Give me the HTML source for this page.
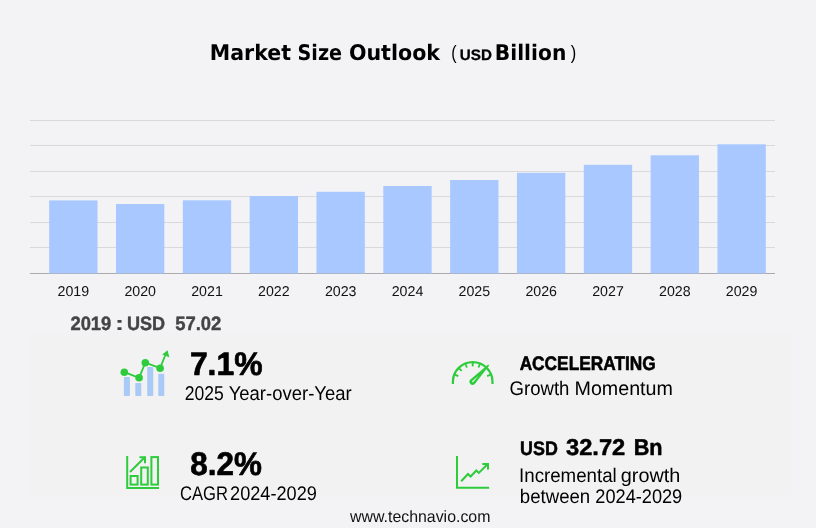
<!DOCTYPE html>
<html lang="en"><head><meta charset="utf-8"><title>Market Size Outlook (USD Billion)</title>
<style>
html,body{margin:0;padding:0;background:#f3f3f6;}
body{width:816px;height:528px;overflow:hidden;font-family:"Liberation Sans",sans-serif;}
svg{display:block;}
</style></head><body>
<svg width="816" height="528" viewBox="0 0 816 528" text-rendering="geometricPrecision" role="img" aria-label="Market Size Outlook (USD Billion)">
<rect x="0" y="0" width="816" height="528" fill="#f3f3f6"/>
<rect x="30" y="329" width="761.5" height="166.5" fill="#f2f2f2"/>
<rect x="30" y="329" width="761.5" height="3" fill="#f3f3f5"/>
<rect x="30" y="332" width="761.5" height="3" fill="#f2f2f4"/>

<rect x="30" y="120" width="745" height="1" fill="#d9d9dc"/>
<rect x="30" y="145" width="745" height="1" fill="#d9d9dc"/>
<rect x="30" y="171" width="745" height="1" fill="#d9d9dc"/>
<rect x="30" y="196" width="745" height="1" fill="#d9d9dc"/>
<rect x="30" y="222" width="745" height="1" fill="#d9d9dc"/>
<rect x="30" y="247" width="745" height="1" fill="#d9d9dc"/>
<rect x="30" y="273" width="745" height="1" fill="#ababad"/>
<rect x="49.15" y="200.4" width="48.35" height="73.0" fill="#a8c8ff"/>
<rect x="115.98" y="204" width="48.35" height="69.4" fill="#a8c8ff"/>
<rect x="182.81" y="200.3" width="48.35" height="73.1" fill="#a8c8ff"/>
<rect x="249.64" y="196" width="48.35" height="77.4" fill="#a8c8ff"/>
<rect x="316.47" y="191.8" width="48.35" height="81.6" fill="#a8c8ff"/>
<rect x="383.30" y="186" width="48.35" height="87.4" fill="#a8c8ff"/>
<rect x="450.13" y="180" width="48.35" height="93.4" fill="#a8c8ff"/>
<rect x="516.96" y="172.8" width="48.35" height="100.6" fill="#a8c8ff"/>
<rect x="583.79" y="164.8" width="48.35" height="108.6" fill="#a8c8ff"/>
<rect x="650.62" y="155.3" width="48.35" height="118.1" fill="#a8c8ff"/>
<rect x="717.45" y="144.3" width="48.35" height="129.1" fill="#a8c8ff"/>
<text x="73.3" y="296" text-anchor="middle" font-size="14.2" fill="#111" font-family="Liberation Sans, sans-serif">2019</text>
<text x="140.2" y="296" text-anchor="middle" font-size="14.2" fill="#111" font-family="Liberation Sans, sans-serif">2020</text>
<text x="207.0" y="296" text-anchor="middle" font-size="14.2" fill="#111" font-family="Liberation Sans, sans-serif">2021</text>
<text x="273.8" y="296" text-anchor="middle" font-size="14.2" fill="#111" font-family="Liberation Sans, sans-serif">2022</text>
<text x="340.7" y="296" text-anchor="middle" font-size="14.2" fill="#111" font-family="Liberation Sans, sans-serif">2023</text>
<text x="407.5" y="296" text-anchor="middle" font-size="14.2" fill="#111" font-family="Liberation Sans, sans-serif">2024</text>
<text x="474.3" y="296" text-anchor="middle" font-size="14.2" fill="#111" font-family="Liberation Sans, sans-serif">2025</text>
<text x="541.2" y="296" text-anchor="middle" font-size="14.2" fill="#111" font-family="Liberation Sans, sans-serif">2026</text>
<text x="608.0" y="296" text-anchor="middle" font-size="14.2" fill="#111" font-family="Liberation Sans, sans-serif">2027</text>
<text x="674.8" y="296" text-anchor="middle" font-size="14.2" fill="#111" font-family="Liberation Sans, sans-serif">2028</text>
<text x="741.6" y="296" text-anchor="middle" font-size="14.2" fill="#111" font-family="Liberation Sans, sans-serif">2029</text>
<text x="209.71" y="60.00" font-size="21.50" font-weight="bold" fill="#000" font-family='"DejaVu Sans", sans-serif' textLength="81.29" lengthAdjust="spacingAndGlyphs">Market</text>
<text x="297.54" y="60.00" font-size="21.50" font-weight="bold" fill="#000" font-family='"DejaVu Sans", sans-serif' textLength="44.56" lengthAdjust="spacingAndGlyphs">Size</text>
<text x="348.88" y="60.00" font-size="21.50" font-weight="bold" fill="#000" font-family='"DejaVu Sans", sans-serif' textLength="91.16" lengthAdjust="spacingAndGlyphs">Outlook</text>
<text x="451.30" y="59.00" font-size="19.50" fill="#000" font-family='"Liberation Sans", sans-serif' textLength="5.36" lengthAdjust="spacingAndGlyphs">(</text>
<text x="459.88" y="60.00" font-size="15.10" font-weight="bold" fill="#000" stroke="#000" stroke-width="0.3" stroke-linejoin="round" font-family='"Liberation Sans", sans-serif' textLength="32.04" lengthAdjust="spacingAndGlyphs">USD</text>
<text x="494.83" y="60.00" font-size="21.50" font-weight="bold" fill="#000" font-family='"DejaVu Sans", sans-serif' textLength="71.46" lengthAdjust="spacingAndGlyphs">Billion</text>
<text x="570.83" y="59.00" font-size="19.50" fill="#000" font-family='"Liberation Sans", sans-serif' textLength="5.49" lengthAdjust="spacingAndGlyphs">)</text>
<text x="70.39" y="330.00" font-size="19.30" font-weight="bold" fill="#444" stroke="#444" stroke-width="0.4" stroke-linejoin="round" font-family='"Liberation Sans", sans-serif' textLength="41.01" lengthAdjust="spacingAndGlyphs">2019</text>
<text x="114.87" y="330.00" font-size="19.80" font-weight="bold" fill="#444" font-family='"Liberation Sans", sans-serif' textLength="9.53" lengthAdjust="spacingAndGlyphs">:</text>
<text x="126.89" y="330.00" font-size="19.30" font-weight="bold" fill="#444" stroke="#444" stroke-width="0.4" stroke-linejoin="round" font-family='"Liberation Sans", sans-serif' textLength="38.19" lengthAdjust="spacingAndGlyphs">USD</text>
<text x="175.20" y="330.00" font-size="19.30" font-weight="bold" fill="#444" stroke="#444" stroke-width="0.4" stroke-linejoin="round" font-family='"Liberation Sans", sans-serif' textLength="46.21" lengthAdjust="spacingAndGlyphs">57.02</text>
<text x="189.90" y="375.00" font-size="32.70" font-weight="bold" fill="#000" stroke="#000" stroke-width="0.7" stroke-linejoin="round" font-family='"Liberation Sans", sans-serif' textLength="72.67" lengthAdjust="spacingAndGlyphs">7.1%</text>
<text x="184.71" y="400.00" font-size="19.90" fill="#000" font-family='"Liberation Sans", sans-serif' textLength="39.08" lengthAdjust="spacingAndGlyphs">2025</text>
<text x="228.66" y="400.00" font-size="19.90" fill="#000" font-family='"Liberation Sans", sans-serif' textLength="123.05" lengthAdjust="spacingAndGlyphs">Year-over-Year</text>
<text x="190.35" y="475.00" font-size="32.70" font-weight="bold" fill="#000" stroke="#000" stroke-width="0.7" stroke-linejoin="round" font-family='"Liberation Sans", sans-serif' textLength="71.54" lengthAdjust="spacingAndGlyphs">8.2%</text>
<text x="180.03" y="500.00" font-size="19.80" fill="#000" font-family='"Liberation Sans", sans-serif' textLength="47.93" lengthAdjust="spacingAndGlyphs">CAGR</text>
<text x="230.09" y="500.00" font-size="19.80" fill="#000" font-family='"Liberation Sans", sans-serif' textLength="86.76" lengthAdjust="spacingAndGlyphs">2024-2029</text>
<text x="519.64" y="370.00" font-size="19.50" font-weight="bold" fill="#000" stroke="#000" stroke-width="0.6" stroke-linejoin="round" font-family='"Liberation Sans", sans-serif' textLength="136.15" lengthAdjust="spacingAndGlyphs">ACCELERATING</text>
<text x="509.59" y="395.00" font-size="19.80" fill="#000" font-family='"Liberation Sans", sans-serif' textLength="59.86" lengthAdjust="spacingAndGlyphs">Growth</text>
<text x="574.50" y="395.00" font-size="19.80" fill="#000" font-family='"Liberation Sans", sans-serif' textLength="98.42" lengthAdjust="spacingAndGlyphs">Momentum</text>
<text x="520.12" y="455.00" font-size="19.50" font-weight="bold" fill="#000" stroke="#000" stroke-width="0.5" stroke-linejoin="round" font-family='"Liberation Sans", sans-serif' textLength="37.73" lengthAdjust="spacingAndGlyphs">USD</text>
<text x="565.97" y="455.00" font-size="22.80" font-weight="bold" fill="#000" stroke="#000" stroke-width="0.5" stroke-linejoin="round" font-family='"Liberation Sans", sans-serif' textLength="59.33" lengthAdjust="spacingAndGlyphs">32.72</text>
<text x="633.71" y="455.00" font-size="22.80" font-weight="bold" fill="#000" stroke="#000" stroke-width="0.5" stroke-linejoin="round" font-family='"Liberation Sans", sans-serif' textLength="28.88" lengthAdjust="spacingAndGlyphs">Bn</text>
<text x="519.06" y="482.00" font-size="19.70" fill="#000" font-family='"Liberation Sans", sans-serif' textLength="97.71" lengthAdjust="spacingAndGlyphs">Incremental</text>
<text x="620.79" y="482.00" font-size="19.70" fill="#000" font-family='"Liberation Sans", sans-serif' textLength="59.53" lengthAdjust="spacingAndGlyphs">growth</text>
<text x="519.80" y="503.00" font-size="19.70" fill="#000" font-family='"Liberation Sans", sans-serif' textLength="70.44" lengthAdjust="spacingAndGlyphs">between</text>
<text x="595.30" y="503.00" font-size="19.70" fill="#000" font-family='"Liberation Sans", sans-serif' textLength="86.94" lengthAdjust="spacingAndGlyphs">2024-2029</text>
<text x="350.03" y="522.00" font-size="16.40" fill="#111" font-family='"Liberation Sans", sans-serif' textLength="140.39" lengthAdjust="spacingAndGlyphs">www.technavio.com</text>
<rect x="123.9" y="377" width="6" height="19.1" rx="0.8" fill="#a9c9f7"/>
<rect x="135.3" y="383" width="6" height="13.1" rx="0.8" fill="#a9c9f7"/>
<rect x="147.2" y="367" width="6" height="29.1" rx="0.8" fill="#a9c9f7"/>
<rect x="158.3" y="373.7" width="6" height="22.4" rx="0.8" fill="#a9c9f7"/>
<polyline points="124.3,372.2 139.1,377.8 145.3,362.7 160.1,368.2 166,353.5" fill="none" stroke="#2ecc3c" stroke-width="1.8"/>
<circle cx="124.3" cy="372.2" r="3.8" fill="#2ecc3c"/>
<circle cx="139.1" cy="377.8" r="3.8" fill="#2ecc3c"/>
<circle cx="145.3" cy="362.7" r="3.8" fill="#2ecc3c"/>
<circle cx="160.1" cy="368.2" r="3.8" fill="#2ecc3c"/>
<polygon points="167.6,350.3 169.3,357.2 162.2,354.6" fill="#2ecc3c"/>
<g fill="none" stroke="#2ecc3c" stroke-width="2">
<polyline points="127.2,455.9 127.2,488.1 159,488.1"/>
<rect x="130.6" y="476" width="7" height="8.6"/>
<rect x="141.2" y="467.5" width="6.6" height="17.1"/>
<rect x="151.4" y="457.1" width="6.6" height="27.5"/>
<polyline points="130,472 144.8,457.3"/>
<polyline points="139.5,457.2 145,457.2 145,463.2"/>
</g>
<g fill="none" stroke="#2ecc3c" stroke-width="2.2">
<path d="M452.9,384.0 L452.9,381.9 A19.8,19.8 0 0 1 492.5,381.9 L492.5,384.0"/>
<line x1="454.8" y1="374.7" x2="458.3" y2="376.1" stroke-width="1.9"/>
<line x1="459.1" y1="368.3" x2="461.7" y2="370.9" stroke-width="1.9"/>
<line x1="465.5" y1="364.0" x2="466.9" y2="367.5" stroke-width="1.9"/>
<line x1="472.7" y1="362.6" x2="472.7" y2="366.4" stroke-width="1.9"/>
<line x1="479.9" y1="364.0" x2="478.5" y2="367.5" stroke-width="1.9"/>
<line x1="490.6" y1="374.7" x2="487.1" y2="376.1" stroke-width="1.9"/>
</g>
<path d="M489.2,365.6 L488.2,364.6 L470.4,379.6 A3.1,3.1 0 0 0 474.8,384 Z" fill="#2ecc3c"/>
<path d="M478.6,375.8 L473.3,382 A0.8,0.8 0 0 1 472.2,380.9 Z" fill="#e4f6e5"/>
<g fill="none" stroke="#2ecc3c" stroke-width="2">
<polyline points="457,455.9 457,487.8 489.1,487.8"/>
<polyline points="461.2,481.3 468,474 470.6,476.5 476.3,470.5 478.8,472.9 487.5,464.2"/>
<polyline points="482.3,464 488,464 488,469.6"/>
</g>
</svg></body></html>
